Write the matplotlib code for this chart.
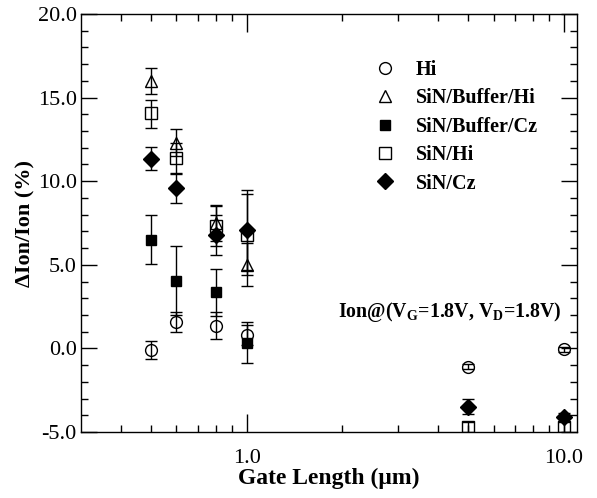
import numpy as np
import matplotlib
matplotlib.use("Agg")
import matplotlib.pyplot as plt
from matplotlib.ticker import FixedLocator, FormatStrFormatter, MultipleLocator, NullFormatter

plt.rcParams['font.family'] = ['Liberation Serif', 'DejaVu Serif']
plt.rcParams['mathtext.fontset'] = 'custom'
plt.rcParams['mathtext.rm'] = 'Liberation Serif:bold'
plt.rcParams['mathtext.bf'] = 'Liberation Serif:bold'
plt.rcParams['axes.unicode_minus'] = False

# Data
hi_x = [0.5, 0.6, 0.8, 1.0, 5.0, 10.0]
hi_y = [-0.1, 1.6, 1.35, 0.8, -1.1, -0.05]
hi_err = [0.55, 0.6, 0.8, 0.6, 0.15, 0.15]

sbh_x = [0.5, 0.6, 0.8, 1.0]
sbh_y = [16.0, 12.3, 7.5, 5.0]
sbh_lo = [0.8, 0.8, 1.1, 1.27]
sbh_hi = [0.75, 0.8, 1.1, 1.3]

sbc_x = [0.5, 0.6, 0.8, 1.0]
sbc_y = [6.5, 4.05, 3.35, 0.35]
sbc_err = [1.45, 2.05, 1.4, 1.2]

sh_x = [0.5, 0.6, 0.8, 1.0, 5.0, 10.0]
sh_y = [14.05, 11.4, 7.3, 6.8, -4.7, -4.7]
sh_lo = [0.85, 0.9, 1.2, 2.4, 0.3, 0.3]
sh_hi = [0.8, 0.9, 1.2, 2.7, 0.3, 0.3]

sc_x = [0.5, 0.6, 0.8, 1.0, 5.0, 10.0]
sc_y = [11.35, 9.6, 6.8, 7.1, -3.5, -4.1]
sc_lo = [0.7, 0.9, 1.2, 2.4, 0.45, 0.25]
sc_hi = [0.7, 0.85, 1.2, 2.15, 0.45, 0.25]

fig = plt.figure(figsize=(5.97, 4.98), dpi=100)
ax = fig.add_axes([0.1357, 0.1325, 0.8308, 0.8394])

eb = dict(fmt='none', ecolor='black', elinewidth=1.0, capsize=4.3, capthick=1.0)
ax.errorbar(hi_x, hi_y, yerr=hi_err, **eb)
ax.errorbar(sbh_x, sbh_y, yerr=[sbh_lo, sbh_hi], **eb)
ax.errorbar(sbc_x, sbc_y, yerr=sbc_err, **eb)
ax.errorbar(sh_x, sh_y, yerr=[sh_lo, sh_hi], **eb)
ax.errorbar(sc_x, sc_y, yerr=[sc_lo, sc_hi], **eb)

ax.plot(hi_x, hi_y, 'o', ms=8.5, mfc='none', mec='black', mew=1.0, ls='none', label='Hi')
ax.plot(sbh_x, sbh_y, '^', ms=9, mfc='none', mec='black', mew=1.0, ls='none', label='SiN/Buffer/Hi')
ax.plot(sbc_x, sbc_y, 's', ms=6.5, mfc='black', mec='black', ls='none', label='SiN/Buffer/Cz')
ax.plot(sh_x, sh_y, 's', ms=8, mfc='none', mec='black', mew=1.0, ls='none', label='SiN/Hi')
ax.plot(sc_x, sc_y, 'D', ms=8.5, mfc='black', mec='black', ls='none', label='SiN/Cz')

ax.set_xscale('log')
ax.set_xlim(0.3, 11)
ax.set_ylim(-5, 20)
ax.xaxis.set_major_locator(FixedLocator([1.0, 10.0]))
ax.xaxis.set_major_formatter(FormatStrFormatter('%.1f'))
ax.xaxis.set_minor_locator(FixedLocator([0.4, 0.5, 0.6, 0.7, 0.8, 0.9,
                                         2, 3, 4, 5, 6, 7, 8, 9]))
ax.xaxis.set_minor_formatter(NullFormatter())
ax.yaxis.set_major_locator(MultipleLocator(5))
ax.yaxis.set_minor_locator(MultipleLocator(1))
ax.yaxis.set_major_formatter(FormatStrFormatter('%.1f'))

ax.tick_params(which='both', direction='in', top=True, right=True, width=1.0,
               labelsize=16)
ax.tick_params(axis='x', which='major', length=13, pad=12)
ax.tick_params(axis='y', which='major', length=11.5, pad=3)
ax.tick_params(which='minor', length=5)
for s in ax.spines.values():
    s.set_linewidth(1.0)

ax.set_xlabel('Gate Length (μm)', fontsize=17, fontweight='bold', labelpad=0)
ax.set_ylabel('ΔIon/Ion (%)', fontsize=16, fontweight='bold', labelpad=2)

ax.text(0.970, 0.287, r'Ion@(V$_\mathbf{G}$=1.8V, V$_\mathbf{D}$=1.8V)',
        transform=ax.transAxes, ha='right', va='center', fontsize=14.3,
        fontweight='bold')

ax.legend(loc='upper left', bbox_to_anchor=(0.573, 0.91), frameon=False,
          prop={'weight': 'bold', 'size': 14.5}, handletextpad=0.9,
          labelspacing=0.42, handlelength=1.2, borderaxespad=0)

fig.savefig('out.png', dpi=100)
